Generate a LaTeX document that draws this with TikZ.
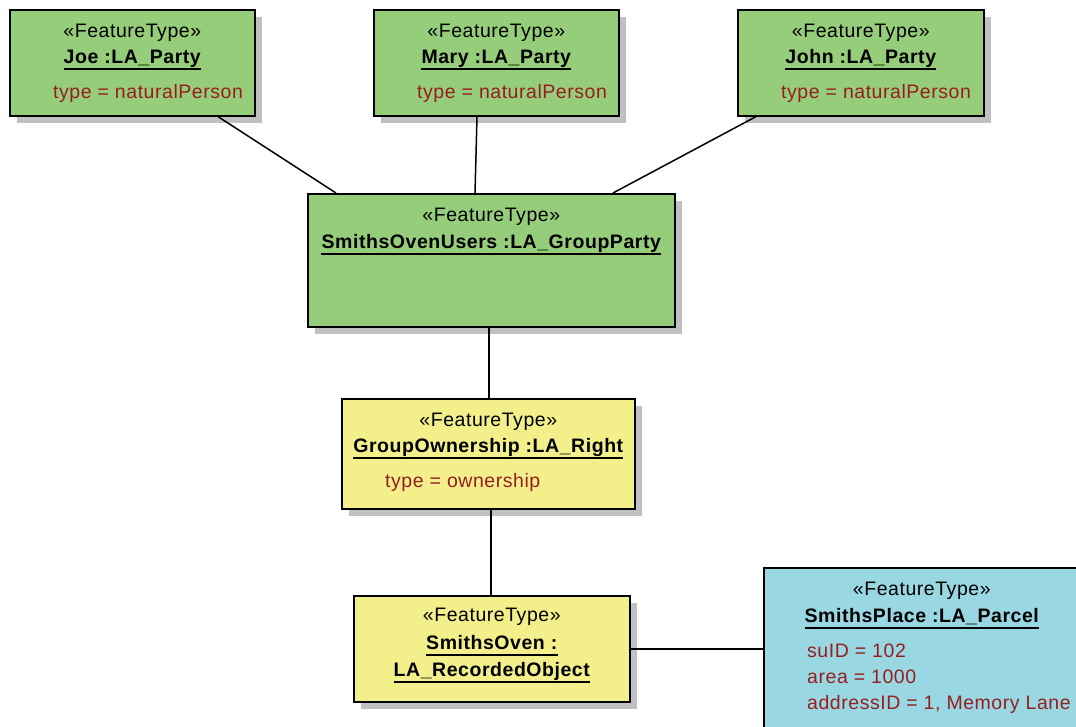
\documentclass[tikz,border=0pt]{standalone}
\usepackage{fontspec}
\setmainfont{Liberation Sans}[LetterSpace=2.8]
\usetikzlibrary{calc,shadows}

\definecolor{partygreen}{RGB}{150,205,122}
\definecolor{rightyellow}{RGB}{243,240,140}
\definecolor{parcelcyan}{RGB}{153,216,226}
\definecolor{attrred}{RGB}{150,30,32}
\definecolor{shadowgray}{RGB}{192,192,192}

\tikzset{
  box/.style={draw=black, line width=1.6pt, inner sep=0pt, anchor=north west,
    drop shadow={shadow xshift=7pt, shadow yshift=-7pt, fill=shadowgray, opacity=1}},
  txt/.style={inner sep=0pt, font=\fontsize{19.5}{23}\selectfont},
  stereo/.style={txt, anchor=base},
  oname/.style={txt, anchor=base, font=\fontsize{19.5}{23}\selectfont\bfseries},
  attr/.style={txt, anchor=base west, text=attrred},
  uline/.style={line width=1.4pt},
  link/.style={line width=1.5pt, black},
}

\begin{document}
\begin{tikzpicture}[x=1pt, y=1pt]
\useasboundingbox (0,0) rectangle (1076,-726);
\clip (0,0) rectangle (1076,-726);

% ---- parties ----
\node[box, fill=partygreen, minimum width=245, minimum height=106] (joe) at (9,-9) {};
\node[box, fill=partygreen, minimum width=245, minimum height=106] (mary) at (373,-9) {};
\node[box, fill=partygreen, minimum width=246, minimum height=106] (john) at (737,-9) {};
\node[box, fill=partygreen, minimum width=367, minimum height=133] (sou) at (307,-193) {};

% ---- right, recorded object, parcel ----
\node[box, fill=rightyellow, minimum width=293, minimum height=110] (go) at (341,-398) {};
\node[box, fill=rightyellow, minimum width=276, minimum height=106] (so) at (353,-595) {};
\node[box, fill=parcelcyan, minimum width=316, minimum height=172] (sp) at (763,-567) {};

% ---- Joe ----
\node[stereo] (joeS) at ([yshift=-28]joe.north) {«FeatureType»};
\node[oname] (joeN) at ([yshift=-54]joe.north) {Joe :LA\_Party};
\draw[uline] ([yshift=-6]joeN.base west) -- ([yshift=-6]joeN.base east);
\node[attr] (joeA) at ([xshift=44,yshift=-89]joe.north west) {type = naturalPerson};

% ---- Mary ----
\node[stereo] (maryS) at ([yshift=-28]mary.north) {«FeatureType»};
\node[oname] (maryN) at ([yshift=-54]mary.north) {Mary :LA\_Party};
\draw[uline] ([yshift=-6]maryN.base west) -- ([yshift=-6]maryN.base east);
\node[attr] (maryA) at ([xshift=44,yshift=-89]mary.north west) {type = naturalPerson};

% ---- John ----
\node[stereo] (johnS) at ([yshift=-28]john.north) {«FeatureType»};
\node[oname] (johnN) at ([yshift=-54]john.north) {John :LA\_Party};
\draw[uline] ([yshift=-6]johnN.base west) -- ([yshift=-6]johnN.base east);
\node[attr] (johnA) at ([xshift=44,yshift=-89]john.north west) {type = naturalPerson};

% ---- group party ----
\node[stereo] (souS) at ([yshift=-28]sou.north) {«FeatureType»};
\node[oname] (souN) at ([yshift=-55]sou.north) {SmithsOvenUsers :LA\_GroupParty};
\draw[uline] ([yshift=-6]souN.base west) -- ([yshift=-6]souN.base east);

% ---- right ----
\node[stereo] (goS) at ([yshift=-28]go.north) {«FeatureType»};
\node[oname] (goN) at ([yshift=-54]go.north) {GroupOwnership :LA\_Right};
\draw[uline] ([yshift=-6]goN.base west) -- ([yshift=-6]goN.base east);
\node[attr] (goA) at ([xshift=44,yshift=-89]go.north west) {type = ownership};

% ---- recorded object ----
\node[stereo] (soS) at ([yshift=-26]so.north) {«FeatureType»};
\node[oname] (soN1) at ([yshift=-54]so.north) {SmithsOven :};
\draw[uline] ([yshift=-6]soN1.base west) -- ([yshift=-6]soN1.base east);
\node[oname] (soN2) at ([yshift=-81]so.north) {LA\_RecordedObject};
\draw[uline] ([yshift=-6]soN2.base west) -- ([yshift=-6]soN2.base east);

% ---- parcel ----
\node[stereo] (spS) at ([yshift=-28]sp.north) {«FeatureType»};
\node[oname] (spN) at ([yshift=-55]sp.north) {SmithsPlace :LA\_Parcel};
\draw[uline] ([yshift=-6]spN.base west) -- ([yshift=-6]spN.base east);
\node[attr] (spA1) at ([xshift=44,yshift=-90]sp.north west) {suID = 102};
\node[attr] (spA2) at ([xshift=44,yshift=-116]sp.north west) {area = 1000};
\node[attr] (spA3) at ([xshift=44,yshift=-142]sp.north west) {addressID = 1, Memory Lane};

% ---- connectors ----
\draw[link] ($(joe.south west)+(209,0)$) -- ($(sou.north west)+(29,0)$);
\draw[link] ($(mary.south west)+(104,0)$) -- ($(sou.north west)+(168,0)$);
\draw[link] ($(john.south west)+(19,0)$) -- ($(sou.north west)+(306,0)$);
\draw[link] ($(sou.south west)+(182,0)$) -- ($(go.north west)+(148,0)$);
\draw[link] ($(go.south west)+(150,0)$) -- ($(so.north west)+(138,0)$);
\draw[link] (so.east) -- (so.east -| sp.west);
\end{tikzpicture}
\end{document}
